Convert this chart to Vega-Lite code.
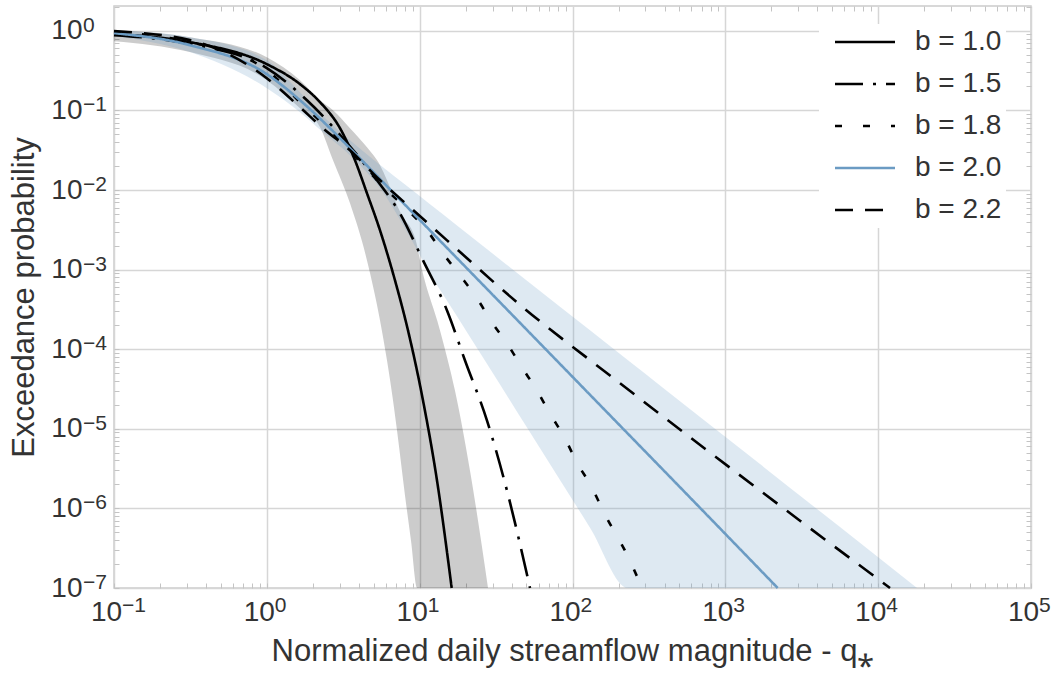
{
  "$schema": "https://vega.github.io/schema/vega-lite/v6.json",
  "width": 917,
  "height": 582,
  "autosize": {"type": "none"},
  "padding": {"left": 114, "top": 6, "right": 23, "bottom": 85},
  "background": "white",
  "datasets": {
    "grayBand": [
      {"q": 0.1, "lo": 0.742, "hi": 1.02},
      {"q": 0.314, "lo": 0.54, "hi": 0.833},
      {"q": 1.0, "lo": 0.2399, "hi": 0.467},
      {"q": 1.648, "lo": 0.1066, "hi": 0.2399},
      {"q": 2.228, "lo": 0.0615, "hi": 0.1343},
      {"q": 2.71, "lo": 0.02363, "hi": 0.1006},
      {"q": 3.501, "lo": 0.0068, "hi": 0.0597},
      {"q": 4.522, "lo": 0.001305, "hi": 0.03444},
      {"q": 5.503, "lo": 0.00023, "hi": 0.02045},
      {"q": 6.114, "lo": 7.21e-5, "hi": 0.01324},
      {"q": 6.694, "lo": 2.26e-5, "hi": 0.00858},
      {"q": 7.109, "lo": 9.49e-6, "hi": 0.00642},
      {"q": 8.02, "lo": 1.444e-6, "hi": 0.00416},
      {"q": 8.776, "lo": 3.92e-7, "hi": 0.0033},
      {"q": 9.607, "lo": 1e-7, "hi": 0.002016},
      {"q": 10.05, "lo": 1e-7, "hi": 0.001305},
      {"q": 13.59, "lo": 1e-7, "hi": 0.000172},
      {"q": 17.02, "lo": 1e-7, "hi": 3.02e-5},
      {"q": 21.35, "lo": 1e-7, "hi": 2.98e-6},
      {"q": 28.01, "lo": 1e-7, "hi": 1e-7}
    ],
    "blueBand": [
      {"q": 0.1, "lo": 0.858, "hi": 1.006},
      {"q": 0.314, "lo": 0.54, "hi": 0.833},
      {"q": 1.0, "lo": 0.1902, "hi": 0.428},
      {"q": 1.648, "lo": 0.0949, "hi": 0.1694},
      {"q": 2.331, "lo": 0.0532, "hi": 0.0845},
      {"q": 3.501, "lo": 0.02733, "hi": 0.0422},
      {"q": 5.757, "lo": 0.00936, "hi": 0.0193},
      {"q": 8.02, "lo": 0.0033, "hi": 0.01169},
      {"q": 11.69, "lo": 0.000896, "hi": 0.00661},
      {"q": 17.55, "lo": 0.0002593, "hi": 0.003578},
      {"q": 25.97, "lo": 7.86e-5, "hi": 0.001975},
      {"q": 33.56, "lo": 3.6e-5, "hi": 0.001344},
      {"q": 50.38, "lo": 1.035e-5, "hi": 0.000725},
      {"q": 82.83, "lo": 2.277e-6, "hi": 0.0003424},
      {"q": 130.2, "lo": 5.73e-7, "hi": 0.0001729},
      {"q": 230.7, "lo": 1e-7, "hi": 7.27e-5},
      {"q": 373.8, "lo": 1e-7, "hi": 3.505e-5},
      {"q": 683, "lo": 1e-7, "hi": 1.411e-5},
      {"q": 1686, "lo": 1e-7, "hi": 3.6e-6},
      {"q": 5628, "lo": 1e-7, "hi": 5.82e-7},
      {"q": 17960, "lo": 1e-7, "hi": 1e-7}
    ],
    "curves": [
      {"b": "b = 1.0", "q": 0.1, "p": 0.909},
      {"b": "b = 1.0", "q": 0.314, "p": 0.721},
      {"b": "b = 1.0", "q": 1.0, "p": 0.381},
      {"b": "b = 1.0", "q": 1.648, "p": 0.214},
      {"b": "b = 1.0", "q": 2.228, "p": 0.127},
      {"b": "b = 1.0", "q": 3.012, "p": 0.0597},
      {"b": "b = 1.0", "q": 3.775, "p": 0.0236},
      {"b": "b = 1.0", "q": 4.522, "p": 0.00909},
      {"b": "b = 1.0", "q": 5.503, "p": 0.00311},
      {"b": "b = 1.0", "q": 6.898, "p": 0.000731},
      {"b": "b = 1.0", "q": 8.389, "p": 0.000172},
      {"b": "b = 1.0", "q": 10.52, "p": 2.26e-5},
      {"b": "b = 1.0", "q": 12.99, "p": 2.23e-6},
      {"b": "b = 1.0", "q": 16.2, "p": 1e-7},

      {"b": "b = 1.5", "q": 0.1, "p": 0.883},
      {"b": "b = 1.5", "q": 0.314, "p": 0.681},
      {"b": "b = 1.5", "q": 1.0, "p": 0.3396},
      {"b": "b = 1.5", "q": 1.831, "p": 0.1343},
      {"b": "b = 1.5", "q": 3.15, "p": 0.0447},
      {"b": "b = 1.5", "q": 5.258, "p": 0.01324},
      {"b": "b = 1.5", "q": 7.435, "p": 0.00509},
      {"b": "b = 1.5", "q": 10.52, "p": 0.001305},
      {"b": "b = 1.5", "q": 15.1, "p": 0.000307},
      {"b": "b = 1.5", "q": 19.8, "p": 7.21e-5},
      {"b": "b = 1.5", "q": 27.58, "p": 1.268e-5},
      {"b": "b = 1.5", "q": 37.28, "p": 1.67e-6},
      {"b": "b = 1.5", "q": 52.72, "p": 1e-7},

      {"b": "b = 1.8", "q": 0.1, "p": 0.963},
      {"b": "b = 1.8", "q": 0.314, "p": 0.721},
      {"b": "b = 1.8", "q": 1.0, "p": 0.3204},
      {"b": "b = 1.8", "q": 1.648, "p": 0.1268},
      {"b": "b = 1.8", "q": 3.012, "p": 0.0422},
      {"b": "b = 1.8", "q": 5.503, "p": 0.01214},
      {"b": "b = 1.8", "q": 8.646, "p": 0.00524},
      {"b": "b = 1.8", "q": 11.17, "p": 0.00311},
      {"b": "b = 1.8", "q": 14.22, "p": 0.0016},
      {"b": "b = 1.8", "q": 18.37, "p": 0.000845},
      {"b": "b = 1.8", "q": 23.73, "p": 0.000434},
      {"b": "b = 1.8", "q": 29.74, "p": 0.000217},
      {"b": "b = 1.8", "q": 37.28, "p": 0.000118},
      {"b": "b = 1.8", "q": 46.73, "p": 5.89e-5},
      {"b": "b = 1.8", "q": 58.6, "p": 3.02e-5},
      {"b": "b = 1.8", "q": 71.27, "p": 1.553e-5},
      {"b": "b = 1.8", "q": 89.33, "p": 7.53e-6},
      {"b": "b = 1.8", "q": 107.0, "p": 3.76e-6},
      {"b": "b = 1.8", "q": 134.2, "p": 1.82e-6},
      {"b": "b = 1.8", "q": 158.4, "p": 9.35e-7},
      {"b": "b = 1.8", "q": 237.8, "p": 2.2e-7},
      {"b": "b = 1.8", "q": 284.9, "p": 1e-7},

      {"b": "b = 2.0", "q": 0.1, "p": 0.936},
      {"b": "b = 2.0", "q": 0.314, "p": 0.661},
      {"b": "b = 2.0", "q": 1.0, "p": 0.2853},
      {"b": "b = 2.0", "q": 1.648, "p": 0.1343},
      {"b": "b = 2.0", "q": 2.591, "p": 0.0597},
      {"b": "b = 2.0", "q": 3.501, "p": 0.03345},
      {"b": "b = 2.0", "q": 7.435, "p": 0.00757},
      {"b": "b = 2.0", "q": 15.79, "p": 0.001714},
      {"b": "b = 2.0", "q": 33.56, "p": 0.000388},
      {"b": "b = 2.0", "q": 151.4, "p": 1.986e-5},
      {"b": "b = 2.0", "q": 683, "p": 1.017e-6},
      {"b": "b = 2.0", "q": 2201, "p": 1e-7},

      {"b": "b = 2.2", "q": 0.1, "p": 0.991},
      {"b": "b = 2.2", "q": 0.314, "p": 0.764},
      {"b": "b = 2.2", "q": 1.0, "p": 0.2541},
      {"b": "b = 2.2", "q": 1.648, "p": 0.1097},
      {"b": "b = 2.2", "q": 2.331, "p": 0.0597},
      {"b": "b = 2.2", "q": 3.501, "p": 0.03157},
      {"b": "b = 2.2", "q": 5.503, "p": 0.01324},
      {"b": "b = 2.2", "q": 8.646, "p": 0.00606},
      {"b": "b = 2.2", "q": 15.1, "p": 0.00233},
      {"b": "b = 2.2", "q": 47.44, "p": 0.000335},
      {"b": "b = 2.2", "q": 176.0, "p": 4.67e-5},
      {"b": "b = 2.2", "q": 736.2, "p": 5.63e-6},
      {"b": "b = 2.2", "q": 3081, "p": 7.0e-7},
      {"b": "b = 2.2", "q": 11953, "p": 1e-7}
    ],
    "xExponents": [
      {"v": 0.1, "e": "−1"},
      {"v": 1, "e": "0"},
      {"v": 10, "e": "1"},
      {"v": 100, "e": "2"},
      {"v": 1000, "e": "3"},
      {"v": 10000, "e": "4"},
      {"v": 100000, "e": "5"}
    ],
    "yExponents": [
      {"v": 1, "e": "0"},
      {"v": 0.1, "e": "−1"},
      {"v": 0.01, "e": "−2"},
      {"v": 0.001, "e": "−3"},
      {"v": 0.0001, "e": "−4"},
      {"v": 1e-5, "e": "−5"},
      {"v": 1e-6, "e": "−6"},
      {"v": 1e-7, "e": "−7"}
    ]
  },
  "resolve": {"axis": {"x": "independent", "y": "independent"}},
  "layer": [
    {
      "data": {"name": "grayBand"},
      "mark": {"type": "area", "color": "#000000", "fillOpacity": 0.2, "interpolate": "monotone"},
      "encoding": {
        "x": {
          "field": "q", "type": "quantitative",
          "scale": {"type": "log", "domain": [0.1, 100000], "nice": false},
          "axis": {
            "title": "Normalized daily streamflow magnitude - q⁎",
            "titleY": 72, "titleBaseline": "alphabetic",
            "values": [0.1, 0.2, 0.3, 0.4, 0.5, 0.6, 0.7, 0.8, 0.9, 1, 2, 3, 4, 5, 6, 7, 8, 9, 10, 20, 30, 40, 50, 60, 70, 80, 90, 100, 200, 300, 400, 500, 600, 700, 800, 900, 1000, 2000, 3000, 4000, 5000, 6000, 7000, 8000, 9000, 10000, 20000, 30000, 40000, 50000, 60000, 70000, 80000, 90000, 100000],
            "labelPadding": 15,
            "labelOffset": -8
          }
        },
        "y": {
          "field": "lo", "type": "quantitative",
          "scale": {"type": "log", "domain": [1e-7, 2.05], "nice": false},
          "axis": {
            "title": "Exceedance probability",
            "titleX": -81, "titleBaseline": "alphabetic",
            "values": [1e-7, 2e-7, 3e-7, 4e-7, 5e-7, 6e-7, 7e-7, 8e-7, 9e-7, 1e-6, 2e-6, 3e-6, 4e-6, 5e-6, 6e-6, 7e-6, 8e-6, 9e-6, 1e-5, 2e-5, 3e-5, 4e-5, 5e-5, 6e-5, 7e-5, 8e-5, 9e-5, 0.0001, 0.0002, 0.0003, 0.0004, 0.0005, 0.0006, 0.0007, 0.0008, 0.0009, 0.001, 0.002, 0.003, 0.004, 0.005, 0.006, 0.007, 0.008, 0.009, 0.01, 0.02, 0.03, 0.04, 0.05, 0.06, 0.07, 0.08, 0.09, 0.1, 0.2, 0.3, 0.4, 0.5, 0.6, 0.7, 0.8, 0.9, 1, 2],
            "labelPadding": 37
          }
        },
        "y2": {"field": "hi"}
      }
    },
    {
      "data": {"name": "blueBand"},
      "mark": {"type": "area", "color": "#6b9bc3", "fillOpacity": 0.22, "interpolate": "monotone"},
      "encoding": {
        "x": {
          "field": "q", "type": "quantitative",
          "axis": {
            "orient": "top", "title": null, "labels": false, "grid": false,
            "values": [0.2, 0.3, 0.4, 0.5, 0.6, 0.7, 0.8, 0.9, 2, 3, 4, 5, 6, 7, 8, 9, 20, 30, 40, 50, 60, 70, 80, 90, 200, 300, 400, 500, 600, 700, 800, 900, 2000, 3000, 4000, 5000, 6000, 7000, 8000, 9000, 20000, 30000, 40000, 50000, 60000, 70000, 80000, 90000]
          }
        },
        "y": {
          "field": "lo", "type": "quantitative",
          "axis": {
            "orient": "right", "title": null, "labels": false, "grid": false,
            "values": [2e-7, 3e-7, 4e-7, 5e-7, 6e-7, 7e-7, 8e-7, 9e-7, 2e-6, 3e-6, 4e-6, 5e-6, 6e-6, 7e-6, 8e-6, 9e-6, 2e-5, 3e-5, 4e-5, 5e-5, 6e-5, 7e-5, 8e-5, 9e-5, 0.0002, 0.0003, 0.0004, 0.0005, 0.0006, 0.0007, 0.0008, 0.0009, 0.002, 0.003, 0.004, 0.005, 0.006, 0.007, 0.008, 0.009, 0.02, 0.03, 0.04, 0.05, 0.06, 0.07, 0.08, 0.09, 0.2, 0.3, 0.4, 0.5, 0.6, 0.7, 0.8, 0.9, 2]
          }
        },
        "y2": {"field": "hi"}
      }
    },
    {
      "data": {"name": "curves"},
      "mark": {"type": "line", "strokeWidth": 2.6, "interpolate": "monotone"},
      "encoding": {
        "x": {"field": "q", "type": "quantitative", "axis": null},
        "y": {"field": "p", "type": "quantitative", "axis": null},
        "color": {
          "field": "b", "type": "nominal",
          "scale": {"domain": ["b = 1.0", "b = 1.5", "b = 1.8", "b = 2.0", "b = 2.2"], "range": ["#000000", "#000000", "#000000", "#6b9bc3", "#000000"]},
          "legend": {"title": null}
        },
        "strokeDash": {
          "field": "b", "type": "nominal",
          "scale": {"domain": ["b = 1.0", "b = 1.5", "b = 1.8", "b = 2.0", "b = 2.2"], "range": [[1, 0], [28, 10, 3, 10], [7, 21], [1, 0], [18, 12]]},
          "legend": {"title": null}
        }
      }
    },
    {
      "data": {"name": "xExponents"},
      "mark": {"type": "text", "align": "left", "baseline": "alphabetic", "dx": 8, "dy": 24, "fontSize": 21, "font": "Liberation Sans", "color": "#333333"},
      "encoding": {
        "x": {"field": "v", "type": "quantitative", "axis": null},
        "y": {"datum": 1e-7, "type": "quantitative", "axis": null},
        "text": {"field": "e"}
      }
    },
    {
      "data": {"name": "yExponents"},
      "mark": {"type": "text", "align": "left", "baseline": "alphabetic", "dx": -31, "dy": 1, "fontSize": 21, "font": "Liberation Sans", "color": "#333333"},
      "encoding": {
        "x": {"datum": 0.1, "type": "quantitative", "axis": null},
        "y": {"field": "v", "type": "quantitative", "axis": null},
        "text": {"field": "e"}
      }
    }
  ],
  "config": {
    "font": "Liberation Sans",
    "view": {"stroke": "#cccccc", "strokeWidth": 1.5},
    "axis": {
      "domain": false,
      "grid": true,
      "gridColor": "#d6d6d6",
      "gridWidth": 1.5,
      "gridOpacity": {"condition": {"test": "abs(log(datum.value)/LN10 - round(log(datum.value)/LN10)) < 0.001", "value": 1}, "value": 0},
      "ticks": true,
      "tickSize": -5,
      "tickColor": "#c4c4c4",
      "tickWidth": 1,
      "labelFont": "Liberation Sans",
      "labelFontSize": 28,
      "labelColor": "#333333",
      "labelOverlap": false,
      "labelFlush": false,
      "labelExpr": "abs(log(datum.value)/LN10 - round(log(datum.value)/LN10)) < 0.001 ? '10' : ''",
      "titleFont": "Liberation Sans",
      "titleFontSize": 31,
      "titleFontWeight": "normal",
      "titleColor": "#333333"
    },
    "legend": {
      "orient": "none",
      "legendX": 705,
      "legendY": 18,
      "fillColor": "white",
      "padding": 4,
      "symbolType": "M-3,0H3",
      "symbolSize": 400,
      "symbolStrokeWidth": 2.6,
      "symbolFillColor": "transparent",
      "symbolOffset": 28,
      "labelOffset": 36,
      "labelFont": "Liberation Sans",
      "labelFontSize": 28,
      "labelColor": "#333333",
      "rowPadding": 14
    }
  }
}
